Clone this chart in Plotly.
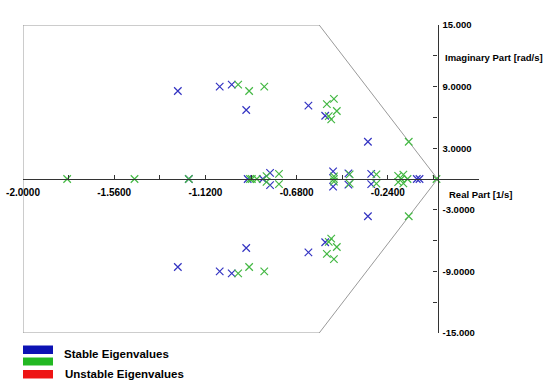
import plotly.graph_objects as go

# ---------------- data ----------------
stable_re = [-1.253, -1.253, -1.051, -1.051, -0.993, -0.993, -0.923, -0.923,
             -0.623, -0.623, -0.542, -0.542, -0.336, -0.336,
             -1.200, -0.916, -0.843, -0.808, -0.808, -0.504, -0.504,
             -0.430, -0.430, -0.320, -0.320, -0.100, -0.087]
stable_im = [8.57, -8.57, 8.99, -8.99, 9.20, -9.20, 6.72, -6.72,
             7.14, -7.14, 6.16, -6.16, 3.63, -3.63,
             0.0, 0.0, 0.0, 0.60, -0.60, 0.75, -0.75,
             0.55, -0.55, 0.50, -0.50, 0.0, 0.0]

unstable_re = [-0.962, -0.962, -0.909, -0.909, -0.836, -0.836, -0.534, -0.534,
               -0.500, -0.500, -0.486, -0.486, -0.525, -0.525, -0.513, -0.513,
               -0.139, -0.139,
               -1.787, -1.462, -1.200, -0.905, -0.896, -0.872,
               -0.825, -0.825, -0.765, -0.765, -0.500, -0.500, -0.500,
               -0.424, -0.424, -0.295, -0.295, -0.190, -0.190,
               -0.165, -0.165, -0.175, -0.145, -0.005]
unstable_im = [9.20, -9.20, 8.57, -8.57, 8.99, -8.99, 7.30, -7.30,
               7.80, -7.80, 6.62, -6.62, 6.13, -6.13, 5.80, -5.80,
               3.63, -3.63,
               0.0, 0.0, 0.0, 0.0, 0.0, 0.0,
               0.28, -0.28, 0.50, -0.50, 0.25, -0.25, 0.0,
               0.45, -0.45, 0.45, -0.45, 0.30, -0.30,
               0.42, -0.42, 0.0, 0.0, 0.0]

# boundary region (damping limit polygon)
region_re = [-0.571, -2.0, -2.0, -0.571, 0.0, -0.571]
region_im = [15.0, 15.0, -15.0, -15.0, 0.0, 15.0]

x_tick_vals = [-2.0, -1.78, -1.56, -1.34, -1.12, -0.90, -0.68, -0.46, -0.24, -0.02, 0.20]
x_tick_text = ["-2.0000", "", "-1.5600", "", "-1.1200", "", "-0.6800", "", "-0.2400", "", ""]
y_tick_vals = [15, 12, 9, 6, 3, -3, -6, -9, -12, -15]
y_tick_text = ["15.000", "", "9.0000", "", "3.0000", "-3.0000", "", "-9.0000", "", "-15.000"]

legend_labels = ["Stable Eigenvalues", "Unstable Eigenvalues"]
legend_colors = ["#0c12b4", "#22b822", "#ee1414"]

# ---------------- layout helpers ----------------
W, H = 547, 381
L, R, T, B = 23, 479, 25, 333


def px(x):
    return (x - L) / (R - L)


def py(y):
    return (B - y) / (B - T)


FONT = "Arial, Liberation Sans, sans-serif"

fig = go.Figure()

fig.add_trace(go.Scatter(x=region_re, y=region_im, mode="lines",
                         line=dict(color="#9a9a9a", width=1), hoverinfo="skip",
                         showlegend=False, cliponaxis=False))

fig.add_trace(go.Scatter(x=stable_re, y=stable_im, mode="markers",
                         marker=dict(symbol="x-thin", size=7.5,
                                     line=dict(width=1.2, color="#3434c2")),
                         showlegend=False, cliponaxis=False))
fig.add_trace(go.Scatter(x=unstable_re, y=unstable_im, mode="markers",
                         marker=dict(symbol="x-thin", size=7.5,
                                     line=dict(width=1.2, color="#44b844")),
                         showlegend=False, cliponaxis=False))

fig.update_layout(
    width=W, height=H,
    margin=dict(l=L, r=W - R, t=T, b=H - B, pad=0, autoexpand=False),
    paper_bgcolor="white", plot_bgcolor="white",
    showlegend=False,
    font=dict(family=FONT, color="black"),
    xaxis=dict(range=[-2.0, 0.2], anchor="free", position=0.5, automargin=False,
               showgrid=False, zeroline=False,
               showline=True, linecolor="#333333", linewidth=1.2,
               ticks="inside", ticklen=4, tickcolor="#333333",
               tickvals=x_tick_vals, ticktext=x_tick_text,
               tickfont=dict(size=10, family=FONT, weight="bold", color="black"),
               ticklabelstandoff=4),
    yaxis=dict(range=[-15, 15], anchor="free", position=2.0 / 2.2, side="right",
               automargin=False,
               showgrid=False, zeroline=False,
               showline=True, linecolor="#333333", linewidth=1.2,
               ticks="inside", ticklen=4, tickcolor="#333333",
               tickvals=y_tick_vals, ticktext=y_tick_text,
               tickfont=dict(size=9.5, family=FONT, weight="bold", color="black"),
               ticklabelstandoff=2),
)

# axis titles
fig.add_annotation(text="Imaginary Part [rad/s]", xref="paper", yref="paper",
                   x=px(443), y=py(57), xanchor="left", yanchor="middle",
                   showarrow=False, font=dict(size=9.5, family=FONT, weight="bold"))
fig.add_annotation(text="Real Part [1/s]", xref="paper", yref="paper",
                   x=px(447), y=py(194), xanchor="left", yanchor="middle",
                   showarrow=False, font=dict(size=9.5, family=FONT, weight="bold"))

# legend swatches
sw = [(345.5, 354), (357.5, 365.5), (370, 378.5)]
for (y0, y1), c in zip(sw, legend_colors):
    fig.add_shape(type="rect", xref="paper", yref="paper",
                  x0=px(23), x1=px(53), y0=py(y1), y1=py(y0),
                  fillcolor=c, line=dict(width=0))
fig.add_annotation(text=legend_labels[0], xref="paper", yref="paper",
                   x=px(62), y=py(354), xanchor="left", yanchor="middle",
                   showarrow=False, font=dict(size=11.5, family=FONT, weight="bold"))
fig.add_annotation(text=legend_labels[1], xref="paper", yref="paper",
                   x=px(63), y=py(374), xanchor="left", yanchor="middle",
                   showarrow=False, font=dict(size=11.5, family=FONT, weight="bold"))

fig.write_html("out.html", config={"displayModeBar": False},
               post_script="document.body.style.margin='0';document.body.style.overflow='hidden';")
